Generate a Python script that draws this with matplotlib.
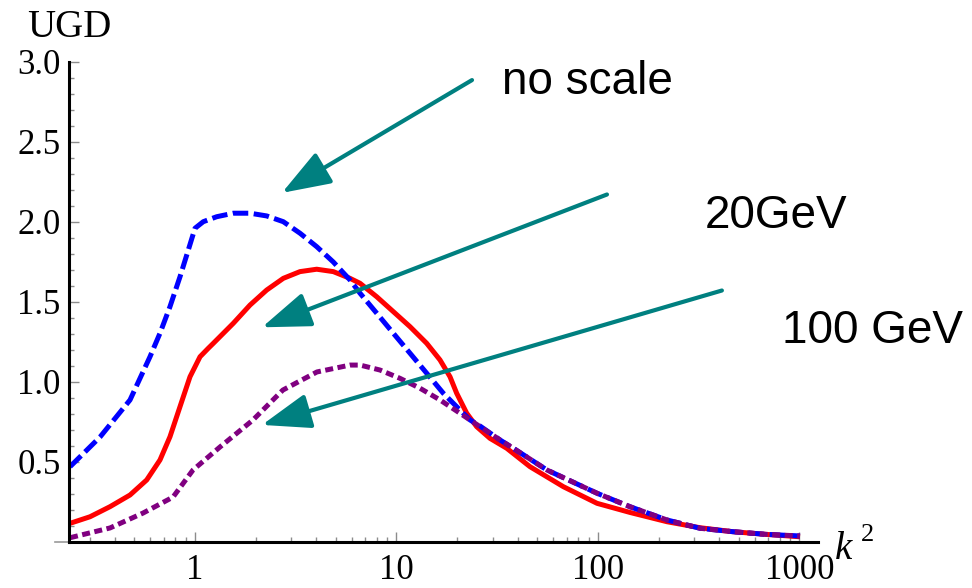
import numpy as np
import matplotlib.pyplot as plt
from matplotlib.ticker import FixedLocator, LogLocator, MultipleLocator, NullFormatter

# curves (k^2, UGD)
k2_blue = [0.2398, 0.3376, 0.4759, 0.5978, 0.6703, 0.7513, 0.8425, 0.9262, 1.0, 1.099,
           1.281, 1.549, 1.875, 2.269, 2.743, 3.319, 4.018, 4.858, 5.878, 6.592, 7.977,
           9.641, 11.67, 14.12, 17.07, 20.66, 23.17, 25.97, 32.64, 37.99, 55.85, 98.9,
           144.1, 220.0, 320.8, 467.7, 682, 1006]
ugd_blue = [0.469, 0.654, 0.886, 1.156, 1.303, 1.469, 1.656, 1.823, 1.959, 2.0,
            2.031, 2.053, 2.053, 2.036, 2.0, 1.928, 1.844, 1.748, 1.636, 1.553, 1.428,
            1.303, 1.178, 1.053, 0.928, 0.823, 0.761, 0.723, 0.636, 0.584, 0.448, 0.303,
            0.219, 0.136, 0.084, 0.0625, 0.046, 0.036]

k2_red = [0.2398, 0.3012, 0.3786, 0.4759, 0.5759, 0.6703, 0.7513, 0.8425, 0.9445, 1.059,
          1.164, 1.233, 1.549, 1.875, 2.269, 2.743, 3.319, 4.018, 4.858, 5.878, 6.592,
          7.977, 9.641, 11.67, 14.12, 16.44, 18.43, 19.89, 22.31, 25.0, 29.11, 35.24,
          45.97, 67.3, 98.9, 144.1, 220.0, 320.8, 467.7, 682, 1006]
ugd_red = [0.115, 0.156, 0.219, 0.292, 0.386, 0.511, 0.656, 0.844, 1.031, 1.156,
           1.209, 1.240, 1.365, 1.479, 1.573, 1.646, 1.688, 1.703, 1.688, 1.646, 1.615,
           1.531, 1.438, 1.344, 1.240, 1.136, 1.031, 0.928, 0.803, 0.719, 0.646, 0.584,
           0.469, 0.344, 0.24, 0.183, 0.125, 0.0875, 0.0625, 0.046, 0.031]

k2_purple = [0.2398, 0.3786, 0.552, 0.778, 0.977, 1.33, 1.94, 2.73, 4.03, 5.88, 6.592,
             8.28, 10.41, 13.09, 16.44, 20.66, 25.97, 32.64, 37.99, 55.85, 98.9, 144.1,
             220.0, 320.8, 467.7, 682, 1006]
ugd_purple = [0.025, 0.086, 0.179, 0.279, 0.448, 0.592, 0.761, 0.948, 1.061, 1.104, 1.104,
              1.073, 1.021, 0.959, 0.886, 0.803, 0.719, 0.636, 0.584, 0.448, 0.303, 0.219,
              0.136, 0.084, 0.0625, 0.046, 0.036]

labels = ['no scale', '20GeV', '100 GeV']
xticks = [1, 10, 100, 1000]
yticks = [0.5, 1.0, 1.5, 2.0, 2.5, 3.0]

serif = 'Liberation Serif'
sans = 'Liberation Sans'
teal = '#008080'

fig = plt.figure(figsize=(9.72, 5.88), dpi=100)
ax = fig.add_axes([0.0710, 0.0787, 0.7706, 0.8164])

ax.plot(k2_red, ugd_red, color='red', lw=3.6, solid_capstyle='butt')
ax.plot(k2_blue, ugd_blue, color='blue', lw=3.6, dashes=(3.1, 1.1), dash_capstyle='butt')
ax.plot(k2_purple, ugd_purple, color='purple', lw=3.6, dashes=(1.6, 0.9), dash_capstyle='butt')

ax.set_xscale('log')
ax.set_xlim(0.237, 1236)
ax.set_ylim(0, 3.0)

ax.xaxis.set_major_locator(FixedLocator(xticks))
ax.set_xticklabels([str(v) for v in xticks])
ax.xaxis.set_minor_locator(LogLocator(base=10, subs=np.arange(2, 10)))
ax.xaxis.set_minor_formatter(NullFormatter())
ax.yaxis.set_major_locator(FixedLocator(yticks))
ax.set_yticklabels([f'{v:.1f}' for v in yticks])
ax.yaxis.set_minor_locator(MultipleLocator(0.1))

for s in ['top', 'right']:
    ax.spines[s].set_visible(False)
for s in ['left', 'bottom']:
    ax.spines[s].set_linewidth(2.2)
    ax.spines[s].set_color('black')

ax.tick_params(which='major', direction='in', length=7, width=1, color='0.55')
ax.tick_params(which='minor', direction='in', length=3.5, width=1, color='0.55')
ax.tick_params(axis='x', which='major', pad=9)
ax.tick_params(axis='y', which='major', pad=6)
for lab in ax.get_xticklabels() + ax.get_yticklabels():
    lab.set_fontfamily(serif)
    lab.set_fontsize(25)

# grey stub of the x axis left of the y axis
ax.plot([-0.019, 0], [0, 0], transform=ax.transAxes, color='0.6', lw=1.2, clip_on=False)

fig.text(27 / 972, 1 - 37 / 588, 'UGD', family=serif, fontsize=28, va='baseline')
fig.text(835 / 972, 1 - 559 / 588, 'k', family=serif, style='italic', fontsize=28, va='baseline')
fig.text(861 / 972, 1 - 541 / 588, '2', family=serif, fontsize=19, va='baseline')

# arrows and their labels
tips = [(2.70, 2.18), (2.15, 1.34), (2.15, 0.73)]
tails = [(23.7, 2.885), (110.8, 2.17), (412, 1.57)]
label_pos = [(33.4, 2.80), (340, 1.96), (819, 1.24)]
for tip, tail, lab, pos in zip(tips, tails, labels, label_pos):
    ax.annotate('', xy=tip, xytext=tail, annotation_clip=False,
                arrowprops=dict(arrowstyle='-|>,head_length=0.75,head_width=0.27',
                                color=teal, lw=3, mutation_scale=40,
                                shrinkA=0, shrinkB=0))
    ax.text(pos[0], pos[1], lab, family=sans, fontsize=33, va='baseline', ha='left',
            clip_on=False)

fig.savefig('out.png', dpi=100)
